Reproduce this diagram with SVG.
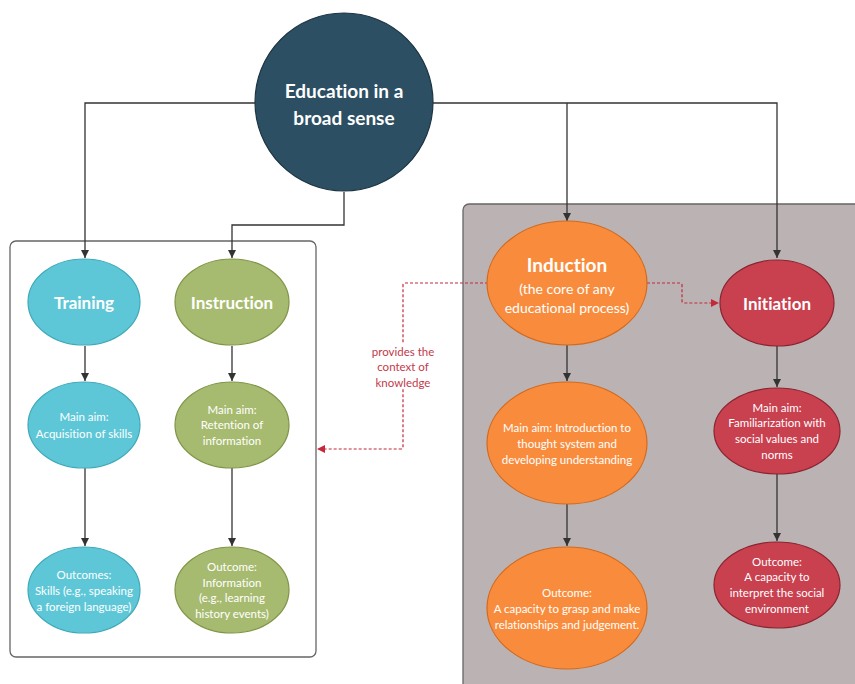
<svg xmlns="http://www.w3.org/2000/svg" width="855" height="684" viewBox="0 0 855 684">
<defs>
<marker id="ah" markerWidth="10" markerHeight="10" refX="9" refY="5" orient="auto" markerUnits="userSpaceOnUse">
<path d="M1,1 L9,5 L1,9 Z" fill="#333"/>
</marker>
<marker id="ahr" markerWidth="10" markerHeight="10" refX="9" refY="5" orient="auto" markerUnits="userSpaceOnUse">
<path d="M1,1 L9,5 L1,9 Z" fill="#c4283a"/>
</marker>
<style>
text{font-family:Lato,"Open Sans","Liberation Sans",sans-serif;fill:#fff;text-anchor:middle;font-variant-ligatures:none}
.t{font-size:18px;font-weight:bold}
.s{font-size:11.5px}
.m{font-size:14px}
.c{fill:none;stroke:#333;stroke-width:1.3}
.d{fill:none;stroke:#c4283a;stroke-width:1.2;stroke-dasharray:3,2}
.cy{fill:#5ec7d7;stroke:#3fa9b9;stroke-width:1.2}
.gr{fill:#a7bb70;stroke:#7f9446;stroke-width:1.2}
.or{fill:#f98c3c;stroke:#d2691e;stroke-width:1.2}
.rd{fill:#c9404f;stroke:#8a2430;stroke-width:1.2}
.lbl{fill:#c23a4a;font-size:11.5px}
</style>
</defs>
<rect x="0" y="0" width="855" height="684" fill="#fff"/>
<rect id="leftbox" x="10" y="241" width="306" height="416" rx="6" fill="#fff" stroke="#666" stroke-width="1.3"/>
<rect id="rightbox" x="463" y="204" width="400" height="490" rx="6" fill="#bbb3b3" stroke="#666" stroke-width="1.3"/>
<g id="connectors">
<path class="c" d="M255,103 H85 V258" marker-end="url(#ah)"/>
<path class="c" d="M344,192 V225 H232 V258" marker-end="url(#ah)"/>
<path class="c" d="M433,103 H777 V258" marker-end="url(#ah)"/>
<path class="c" d="M567,103 V221" marker-end="url(#ah)"/>
<path class="c" d="M85,346 V381" marker-end="url(#ah)"/>
<path class="c" d="M85,468 V546" marker-end="url(#ah)"/>
<path class="c" d="M232,346 V381" marker-end="url(#ah)"/>
<path class="c" d="M232,468 V546" marker-end="url(#ah)"/>
<path class="c" d="M567,345 V381" marker-end="url(#ah)"/>
<path class="c" d="M567,504 V546" marker-end="url(#ah)"/>
<path class="c" d="M777,346 V387" marker-end="url(#ah)"/>
<path class="c" d="M777,474 V541" marker-end="url(#ah)"/>
<path class="d" d="M488,283 H405 Q403,283 403,285 V447 Q403,449 401,449 H317" marker-end="url(#ahr)"/>
<path class="d" d="M647,283 H680 Q682,283 682,285 V301 Q682,303 684,303 H719" marker-end="url(#ahr)"/>
<rect x="364" y="343" width="78" height="46" fill="#fff"/>
<text class="lbl" x="403" y="356">provides the</text>
<text class="lbl" x="403" y="371">context of</text>
<text class="lbl" x="403" y="387">knowledge</text>
</g>
<g id="root">
<circle cx="344" cy="102" r="89" fill="#2c4f63" stroke="#1d3442" stroke-width="1.2"/>
<text class="t" x="344" y="98" style="font-size:19px">Education in a</text>
<text class="t" x="344" y="125" style="font-size:19px">broad sense</text>
</g>
<g id="training">
<ellipse class="cy" cx="84" cy="302" rx="56" ry="43"/>
<text class="t" x="84" y="309" style="font-size:17px">Training</text>
</g>
<g id="training-aim">
<ellipse class="cy" cx="84" cy="425" rx="56" ry="43"/>
<text class="s" x="84" y="421">Main aim:</text>
<text class="s" x="84" y="438">Acquisition of skills</text>
</g>
<g id="training-outcome">
<ellipse class="cy" cx="84" cy="590" rx="56" ry="43"/>
<text class="s" x="84" y="579">Outcomes:</text>
<text class="s" x="84" y="595">Skills (e.g., speaking</text>
<text class="s" x="84" y="611">a foreign language)</text>
</g>
<g id="instruction">
<ellipse class="gr" cx="232" cy="302" rx="57" ry="43"/>
<text class="t" x="232" y="309" style="font-size:17px">Instruction</text>
</g>
<g id="instruction-aim">
<ellipse class="gr" cx="232" cy="425" rx="57" ry="43"/>
<text class="s" x="232" y="414">Main aim:</text>
<text class="s" x="232" y="429">Retention of</text>
<text class="s" x="232" y="445">information</text>
</g>
<g id="instruction-outcome">
<ellipse class="gr" cx="232" cy="590" rx="57" ry="43"/>
<text class="s" x="232" y="571">Outcome:</text>
<text class="s" x="232" y="587">Information</text>
<text class="s" x="232" y="602">(e.g., learning</text>
<text class="s" x="232" y="618">history events)</text>
</g>
<g id="induction">
<ellipse class="or" cx="567" cy="283" rx="80" ry="62"/>
<text class="t" x="567" y="272" style="font-size:19px">Induction</text>
<text class="m" x="567" y="294">(the core of any</text>
<text class="m" x="567" y="313">educational process)</text>
</g>
<g id="induction-aim">
<ellipse class="or" cx="567" cy="443" rx="80" ry="61"/>
<text class="s" x="567" y="432">Main aim: Introduction to</text>
<text class="s" x="567" y="448">thought system and</text>
<text class="s" x="567" y="464">developing understanding</text>
</g>
<g id="induction-outcome">
<ellipse class="or" cx="567" cy="608" rx="80" ry="61"/>
<text class="s" x="567" y="597">Outcome:</text>
<text class="s" x="567" y="613">A capacity to grasp and make</text>
<text class="s" x="567" y="629">relationships and judgement.</text>
</g>
<g id="initiation">
<ellipse class="rd" cx="777" cy="303" rx="57" ry="43"/>
<text class="t" x="777" y="310" style="font-size:17px">Initiation</text>
</g>
<g id="initiation-aim">
<ellipse class="rd" cx="777" cy="431" rx="63" ry="43"/>
<text class="s" x="777" y="412">Main aim:</text>
<text class="s" x="777" y="427">Familiarization with</text>
<text class="s" x="777" y="443">social values and</text>
<text class="s" x="777" y="459">norms</text>
</g>
<g id="initiation-outcome">
<ellipse class="rd" cx="777" cy="585" rx="63" ry="43"/>
<text class="s" x="777" y="566">Outcome:</text>
<text class="s" x="777" y="581">A capacity to</text>
<text class="s" x="777" y="597">interpret the social</text>
<text class="s" x="777" y="613">environment</text>
</g>
</svg>
